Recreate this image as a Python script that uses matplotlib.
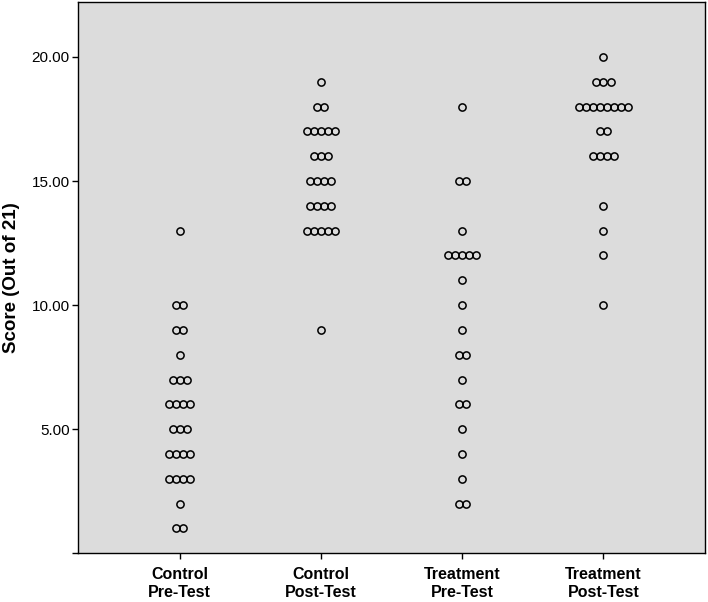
import matplotlib
matplotlib.use("Agg")
import matplotlib.pyplot as plt
import numpy as np

plt.rcParams['font.family'] = ['Liberation Sans', 'DejaVu Sans']

# score -> number of students with that score
groups = ["Control\nPre-Test", "Control\nPost-Test", "Treatment\nPre-Test", "Treatment\nPost-Test"]
control_pre = {13: 1, 10: 2, 9: 2, 8: 1, 7: 3, 6: 4, 5: 3, 4: 4, 3: 4, 2: 1, 1: 2}
control_post = {19: 1, 18: 2, 17: 5, 16: 3, 15: 4, 14: 4, 13: 5, 9: 1}
treatment_pre = {18: 1, 15: 2, 13: 1, 12: 5, 11: 1, 10: 1, 9: 1, 8: 2, 7: 1,
                 6: 2, 5: 1, 4: 1, 3: 1, 2: 2}
treatment_post = {20: 1, 19: 3, 18: 8, 17: 2, 16: 4, 14: 1, 13: 1, 12: 1, 10: 1}
counts = [control_pre, control_post, treatment_pre, treatment_post]

yticks = [0, 5, 10, 15, 20]
yticklabels = ["", "5.00", "10.00", "15.00", "20.00"]

fig = plt.figure(figsize=(7.08, 6.02), dpi=100)
ax = fig.add_axes([0.110, 0.081, 0.886, 0.915])
ax.set_facecolor("#dcdcdc")

step = 0.05  # horizontal spacing between stacked dots
for gi, grp in enumerate(counts):
    for score, n in grp.items():
        offs = (np.arange(n) - (n - 1) / 2) * step
        ax.plot(gi + offs, [score] * n, 'o', ms=5.2, mfc='none',
                mec='black', mew=1.1, linestyle='none')

ax.set_xlim(-0.72, 3.72)
ax.set_ylim(0, 22.2)
ax.set_xticks(range(len(groups)))
ax.set_xticklabels(groups, fontweight='bold', fontsize=11.5, linespacing=1.25)
ax.set_yticks(yticks)
ax.set_yticklabels(yticklabels, fontsize=11)
ax.set_ylabel("Score (Out of 21)", fontweight='bold', fontsize=13.5, labelpad=8)
ax.tick_params(direction='out', length=4.5, width=1, color='black')
ax.tick_params(axis='y', pad=1.5)
ax.tick_params(axis='x', pad=5.5)
for s in ax.spines.values():
    s.set_color('black')
    s.set_linewidth(1)

fig.savefig("out.png", dpi=100)
